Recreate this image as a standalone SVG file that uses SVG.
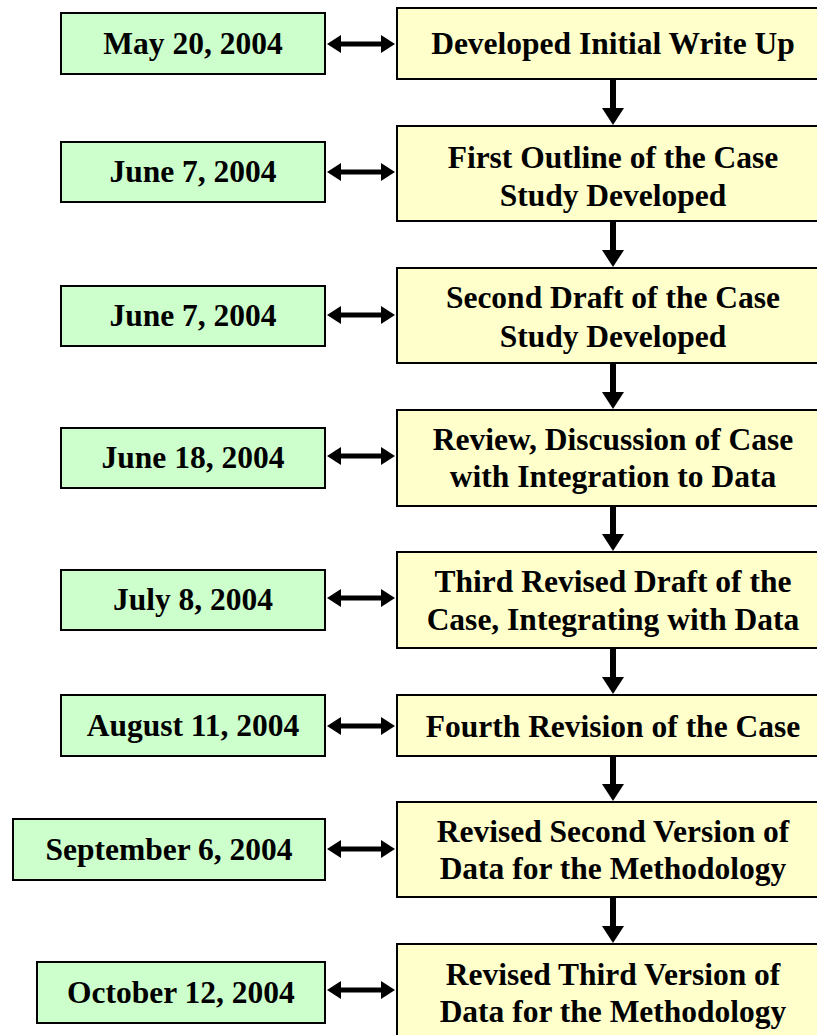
<svg xmlns="http://www.w3.org/2000/svg" width="817" height="1035" viewBox="0 0 817 1035">
<style>
.g{fill:#CCFFCC;stroke:#000;stroke-width:2}
.y{fill:#FFFFCC;stroke:#000;stroke-width:2}
text{font-family:"Liberation Serif","Times New Roman",serif;font-weight:bold;font-size:31.5px;fill:#000;text-anchor:middle}
.h{stroke:#000;stroke-width:5;fill:none;marker-start:url(#hh);marker-end:url(#hh)}
.v{stroke:#000;stroke-width:6;fill:none;marker-end:url(#vh)}
</style>
<defs>
<marker id="hh" viewBox="0 0 14 18" refX="1" refY="9" markerWidth="14" markerHeight="18" markerUnits="userSpaceOnUse" orient="auto-start-reverse"><path d="M0,0 L14,9 L0,18 z" fill="#000"/></marker>
<marker id="vh" viewBox="0 0 17 22" refX="1" refY="11" markerWidth="17" markerHeight="22" markerUnits="userSpaceOnUse" orient="auto"><path d="M0,0 L17,11 L0,22 z" fill="#000"/></marker>
</defs>
<g id="connectors">
<line class="h" x1="340" y1="44" x2="382" y2="44"/>
<line class="h" x1="340" y1="172" x2="382" y2="172"/>
<line class="h" x1="340" y1="315" x2="382" y2="315"/>
<line class="h" x1="340" y1="456" x2="382" y2="456"/>
<line class="h" x1="340" y1="598" x2="382" y2="598"/>
<line class="h" x1="340" y1="726" x2="382" y2="726"/>
<line class="h" x1="340" y1="849" x2="382" y2="849"/>
<line class="h" x1="340" y1="990" x2="382" y2="990"/>
<line class="v" x1="613" y1="80" x2="613" y2="109"/>
<line class="v" x1="613" y1="222" x2="613" y2="251"/>
<line class="v" x1="613" y1="364" x2="613" y2="393"/>
<line class="v" x1="613" y1="507" x2="613" y2="535"/>
<line class="v" x1="613" y1="649" x2="613" y2="678"/>
<line class="v" x1="613" y1="757" x2="613" y2="785"/>
<line class="v" x1="613" y1="898" x2="613" y2="927"/>
</g>
<g id="d1"><rect class="g" x="61" y="13" width="264" height="61"/><text x="193" y="54">May 20, 2004</text></g>
<g id="d2"><rect class="g" x="61" y="142" width="264" height="60"/><text x="193" y="182">June 7, 2004</text></g>
<g id="d3"><rect class="g" x="61" y="286" width="264" height="60"/><text x="193" y="326">June 7, 2004</text></g>
<g id="d4"><rect class="g" x="61" y="428" width="264" height="60"/><text x="193" y="468">June 18, 2004</text></g>
<g id="d5"><rect class="g" x="61" y="570" width="264" height="60"/><text x="193" y="610">July 8, 2004</text></g>
<g id="d6"><rect class="g" x="61" y="695" width="264" height="61"/><text x="193" y="736">August 11, 2004</text></g>
<g id="d7"><rect class="g" x="13" y="819" width="312" height="61"/><text x="169" y="860">September 6, 2004</text></g>
<g id="d8"><rect class="g" x="37" y="962" width="288" height="61"/><text x="181" y="1003">October 12, 2004</text></g>
<g id="s1"><rect class="y" x="397" y="8" width="432" height="71"/><text x="613" y="54">Developed Initial Write Up</text></g>
<g id="s2"><rect class="y" x="397" y="126" width="432" height="95"/><text x="613" y="168">First Outline of the Case</text><text x="613" y="206">Study Developed</text></g>
<g id="s3"><rect class="y" x="397" y="268" width="432" height="95"/><text x="613" y="308">Second Draft of the Case</text><text x="613" y="347">Study Developed</text></g>
<g id="s4"><rect class="y" x="397" y="410" width="432" height="96"/><text x="613" y="450">Review, Discussion of Case</text><text x="613" y="487">with Integration to Data</text></g>
<g id="s5"><rect class="y" x="397" y="552" width="432" height="96"/><text x="613" y="592">Third Revised Draft of the</text><text x="613" y="630">Case, Integrating with Data</text></g>
<g id="s6"><rect class="y" x="397" y="695" width="432" height="61"/><text x="613" y="737">Fourth Revision of the Case</text></g>
<g id="s7"><rect class="y" x="397" y="802" width="432" height="95"/><text x="613" y="842">Revised Second Version of</text><text x="613" y="879">Data for the Methodology</text></g>
<g id="s8"><rect class="y" x="397" y="944" width="432" height="96"/><text x="613" y="985">Revised Third Version of</text><text x="613" y="1022">Data for the Methodology</text></g>
</svg>
